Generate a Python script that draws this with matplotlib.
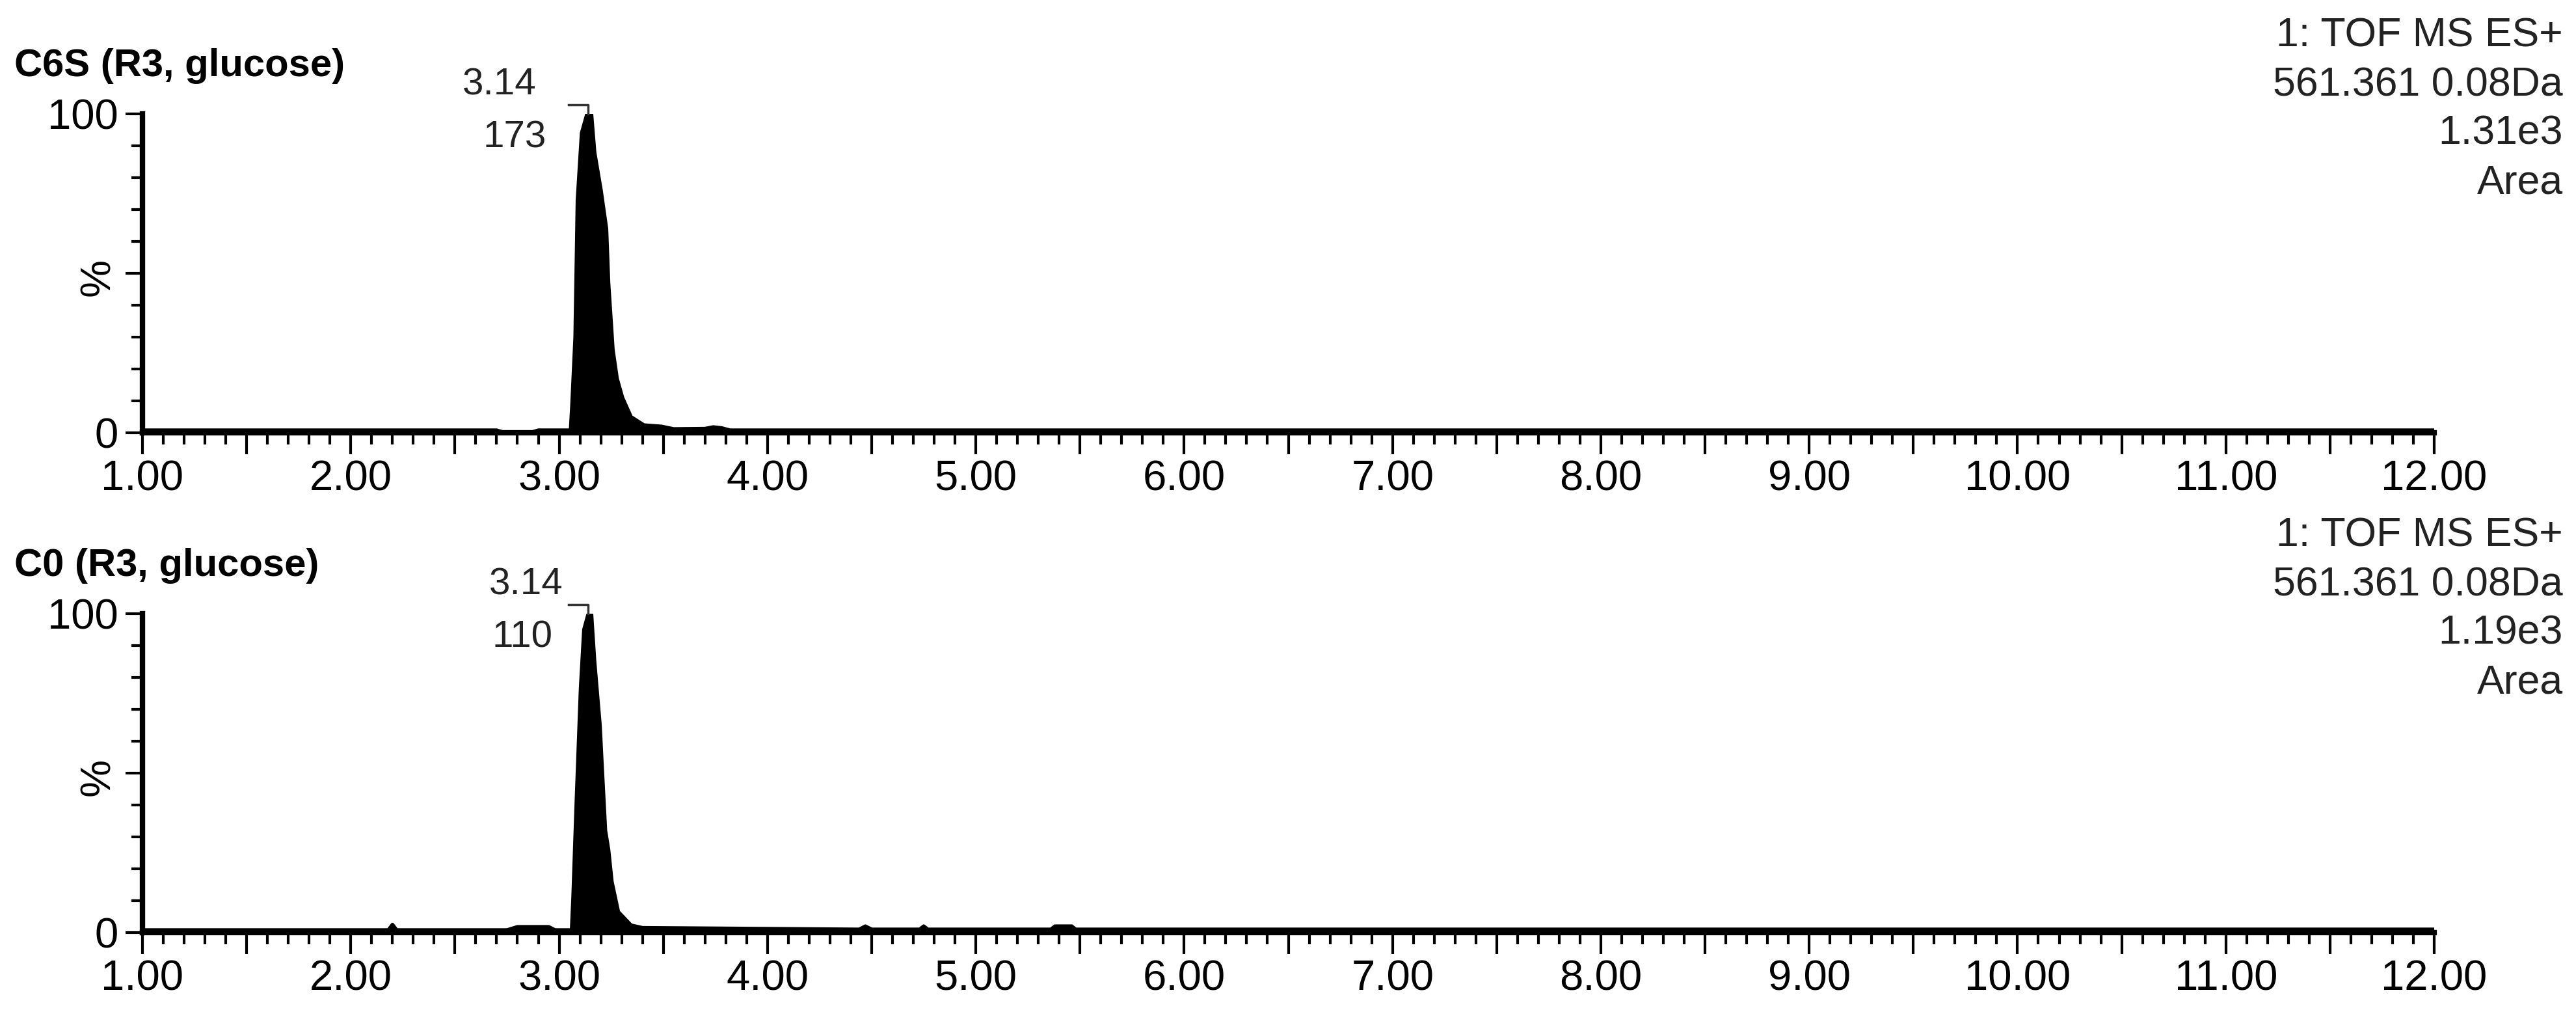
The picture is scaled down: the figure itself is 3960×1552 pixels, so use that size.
import numpy as np
import matplotlib.pyplot as plt
from matplotlib.ticker import MultipleLocator, FuncFormatter

plt.rcParams['font.family'] = ['Liberation Sans', 'DejaVu Sans']

W, H = 3960, 1552

# retention time (min) and relative intensity (%)
c6s_time = [1.00, 2.70, 2.74, 2.86, 2.90, 3.055, 3.062, 3.077, 3.088, 3.108, 3.134,
            3.155, 3.170, 3.201, 3.227, 3.237, 3.258, 3.278, 3.304, 3.345, 3.407,
            3.49, 3.55, 3.70, 3.74, 3.78, 3.82, 12.00]
c6s_pct = [0.8, 0.8, 0.0, 0.0, 0.8, 0.8, 9, 30, 73, 94, 100,
           100, 88, 76, 64, 47, 26, 17, 11, 5, 2.4,
           2.0, 1.2, 1.3, 1.8, 1.5, 0.8, 0.8]

c0_time = [1.00, 2.18, 2.20, 2.22, 2.75, 2.80, 2.95, 2.98, 3.06, 3.067, 3.082,
           3.103, 3.119, 3.140, 3.155, 3.170, 3.196, 3.206, 3.222, 3.237, 3.253,
           3.284, 3.345, 3.40, 4.44, 4.47, 4.50, 4.73, 4.75, 4.77, 5.36, 5.38,
           5.46, 5.48, 12.00]
c0_pct = [0.8, 0.8, 2.5, 0.8, 0.8, 1.8, 1.8, 0.8, 0.8, 11, 39.6,
          76.5, 95, 100, 100, 85, 65, 52, 32, 26, 16,
          6.5, 2.3, 1.5, 1.0, 2.0, 1.0, 1.0, 2.0, 1.0, 1.0, 2.0,
          2.0, 1.0, 1.0]

panel_titles = ['C6S (R3, glucose)', 'C0 (R3, glucose)']
peak_rt = ['3.14', '3.14']
peak_area = ['173', '110']
scan_lines = ['1: TOF MS ES+', '561.361 0.08Da']
panel_intensity = ['1.31e3', '1.19e3']


def tick_label(v, pos):
    return f'{v:.2f}' if abs(v - round(v)) < 1e-6 else ''


def draw_panel(ax, t, y, rt_label, area_label, rt_x, area_x):
    ax.fill_between(t, y, 0, color='black', linewidth=0, zorder=2)
    ax.plot(t, y, color='black', linewidth=4, zorder=3)

    ax.set_xlim(1, 12)
    ax.set_ylim(0, 100)
    for side in ['top', 'right']:
        ax.spines[side].set_visible(False)
    for side in ['left', 'bottom']:
        ax.spines[side].set_linewidth(6)

    ax.xaxis.set_major_locator(MultipleLocator(0.5))
    ax.xaxis.set_minor_locator(MultipleLocator(0.1))
    ax.xaxis.set_major_formatter(FuncFormatter(tick_label))
    ax.set_yticks([0, 50, 100])
    ax.set_yticklabels(['0', '%', '100'])
    ax.yaxis.set_minor_locator(MultipleLocator(10))
    ax.get_yticklabels()[1].set_rotation(90)

    ax.tick_params(axis='x', which='major', length=24, width=3, pad=6, labelsize=47)
    ax.tick_params(axis='x', which='minor', length=13, width=3)
    ax.tick_params(axis='y', which='major', length=19, width=3, pad=8, labelsize=47)
    ax.tick_params(axis='y', which='minor', length=12, width=3)

    ax.text(rt_x, 109, rt_label, ha='right', va='center', fontsize=42, color='#222222', clip_on=False)
    ax.text(area_x, 92.5, area_label, ha='right', va='center', fontsize=42, color='#222222', clip_on=False)
    ax.plot([3.045, 3.14, 3.14], [102.8, 102.8, 100], color='#333333', linewidth=2.5,
            clip_on=False, zorder=4)


fig = plt.figure(figsize=(W / 100, H / 100), dpi=100)
ax_top = fig.add_axes([219 / W, 1 - 665 / H, (3742 - 219) / W, 490 / H])
ax_bot = fig.add_axes([219 / W, 1 - 1433 / H, (3742 - 219) / W, 490 / H])

draw_panel(ax_top, c6s_time, c6s_pct, peak_rt[0], peak_area[0], 2.89, 2.94)
draw_panel(ax_bot, c0_time, c0_pct, peak_rt[1], peak_area[1], 3.02, 2.97)

for i, offset in enumerate([0, 768]):
    fig.text(22 / W, 1 - (117 + offset) / H, panel_titles[i], fontsize=43, fontweight='bold',
             ha='left', va='baseline')
    lines = scan_lines + [panel_intensity[i], 'Area']
    for j, line in enumerate(lines):
        fig.text(3940 / W, 1 - (72 + 75 * j + offset) / H, line, fontsize=45,
                 ha='right', va='baseline', color='#222222')

fig.savefig('out.png', dpi=100, facecolor='white')
